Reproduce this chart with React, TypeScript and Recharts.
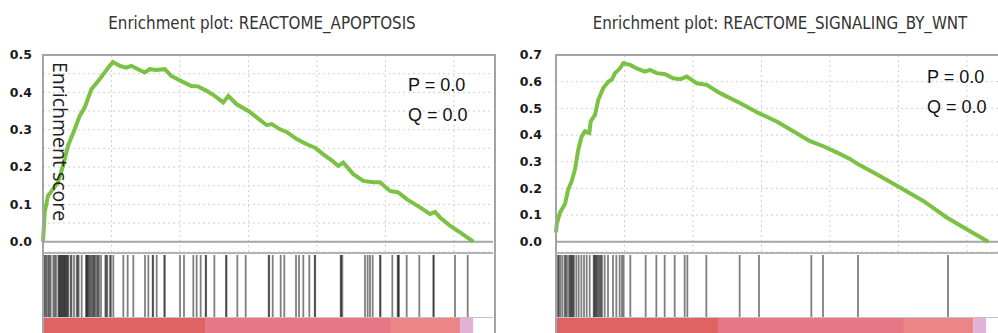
import React from 'react';
import { LineChart, Line, XAxis, YAxis, CartesianGrid, ReferenceLine, ReferenceArea, ComposedChart } from 'recharts';

// ranked gene list, x axis in rank units
const RANK_MAX = 32850;
const rankTicks = [5000, 10000, 15000, 20000, 25000, 30000];

const apoptosisRanks = [0, 124, 365, 730, 1095, 1460, 1825, 2314, 2679, 3044, 3529, 4015, 4504, 4869, 5110, 5599, 6081, 6446, 6935, 7424, 7789, 8271, 8884, 9366, 10096, 10826, 11315, 11950, 12556, 13162, 13527, 14138, 14989, 15600, 16330, 16695, 17301, 17790, 18520, 19250, 19856, 20462, 21075, 21556, 21921, 22652, 23382, 24112, 24601, 25331, 25937, 26549, 27521, 28251, 28616, 28981, 29711, 30441, 31412];
const apoptosisScores = [0, 0.079, 0.123, 0.141, 0.159, 0.203, 0.257, 0.301, 0.337, 0.359, 0.408, 0.43, 0.453, 0.471, 0.481, 0.471, 0.466, 0.471, 0.462, 0.453, 0.462, 0.46, 0.462, 0.444, 0.43, 0.417, 0.416, 0.404, 0.39, 0.373, 0.39, 0.368, 0.35, 0.333, 0.312, 0.315, 0.301, 0.294, 0.275, 0.261, 0.252, 0.234, 0.218, 0.203, 0.212, 0.181, 0.163, 0.159, 0.159, 0.136, 0.132, 0.114, 0.092, 0.074, 0.08, 0.065, 0.043, 0.025, 0];
const apoptosisHits = [97, 180, 268, 389, 470, 560, 754, 850, 949, 1119, 1180, 1241, 1300, 1363, 1420, 1484, 1540, 1606, 1660, 1728, 1790, 1849, 2020, 2080, 2263, 2458, 2530, 2604, 2823, 3139, 3190, 3236, 3300, 3382, 3460, 3553, 3640, 3723, 3800, 3918, 4000, 4088, 4234, 4550, 4620, 4696, 4891, 4960, 5134, 5864, 6180, 6594, 7446, 7690, 8005, 8040, 8298, 8857, 8890, 10001, 10293, 10974, 11217, 11509, 11874, 11910, 12509, 13359, 13395, 14187, 14796, 16476, 16510, 16768, 17352, 17615, 18469, 18688, 19002, 19440, 19834, 19870, 21731, 21770, 21853, 23506, 23700, 23871, 24066, 24601, 24640, 25500, 25893, 25930, 25988, 26549, 27470, 28492, 28530, 30076, 31003];

const wntRanks = [0, 51, 292, 657, 898, 1146, 1387, 1628, 1876, 2117, 2431, 2533, 2847, 3088, 3453, 3818, 4066, 4307, 4672, 4913, 5402, 5891, 6497, 6862, 7351, 7957, 8563, 9052, 9541, 10271, 11001, 11972, 13432, 14768, 16111, 17323, 18542, 19513, 20491, 21462, 22068, 23411, 25112, 26813, 28521, 29981, 31558];
const wntScores = [0.035, 0.066, 0.11, 0.141, 0.197, 0.227, 0.271, 0.346, 0.395, 0.414, 0.408, 0.451, 0.476, 0.532, 0.576, 0.6, 0.607, 0.632, 0.65, 0.669, 0.663, 0.65, 0.638, 0.644, 0.632, 0.628, 0.613, 0.609, 0.619, 0.594, 0.588, 0.557, 0.52, 0.483, 0.451, 0.414, 0.377, 0.358, 0.335, 0.31, 0.29, 0.253, 0.203, 0.153, 0.091, 0.047, 0];
const wntHits = [146, 200, 316, 462, 632, 700, 803, 949, 1030, 1100, 1168, 1240, 1314, 1484, 1655, 1850, 2044, 2239, 2458, 2750, 2800, 2872, 2940, 3018, 3100, 3188, 3270, 3358, 3553, 3796, 4161, 4404, 4647, 4818, 4939, 5426, 6545, 7325, 7933, 8663, 9393, 9588, 10975, 13408, 14819, 18639, 19491, 22046, 28616];

// ranked list metric bands
const metricBreaks = [0, 11826, 25400, 30450, 31400];
const metricColors = ['#e06363', '#e57884', '#ea8687', '#e2b2d8'];

const PLOT_W = 450;

interface PanelProps {
  left: number;
  axisW: number;
  title: string;
  titleCenter: number;
  ranks: number[];
  scores: number[];
  hits: number[];
  yMin: number;
  yMax: number;
  yTicks: number[];
  pq: { x: number; y: number };
  yLabel?: boolean;
}

const Panel: React.FC<PanelProps> = ({ left, axisW, title, titleCenter, ranks, scores, hits, yMin, yMax, yTicks, pq, yLabel }) => {
  const rows = ranks.map((r, i) => ({ rank: r, es: scores[i] }));
  const chartW = axisW + PLOT_W + 5;
  const plotLeft = left + axisW;
  const edge = [{ rank: 0, v: 0 }, { rank: RANK_MAX, v: 0 }];
  const textStyle: React.CSSProperties = { position: 'absolute', fontFamily: '"Liberation Sans", Arial, sans-serif', fontSize: 18, lineHeight: '18px', color: '#111', whiteSpace: 'nowrap' };
  return (
    <>
      <div style={{ position: 'absolute', left: titleCenter - 250, width: 500, top: 14, textAlign: 'center', fontFamily: '"Liberation Sans Narrow", "DejaVu Sans Condensed", sans-serif', fontSize: 16.8, lineHeight: '18px', color: '#333' }}>
        {title}
      </div>
      <div style={{ position: 'absolute', left, top: 0 }}>
        <LineChart width={chartW} height={253} data={rows} margin={{ top: 55, right: 5, bottom: 0, left: 0 }}>
          <CartesianGrid strokeDasharray="2 3" stroke="#d0d0d0" verticalValues={rankTicks} />
          <XAxis type="number" dataKey="rank" domain={[0, RANK_MAX]} ticks={rankTicks} interval={0} height={1} tickFormatter={() => ''} tickLine={false} axisLine={false} />
          <YAxis
            type="number"
            domain={[yMin, yMax]}
            ticks={yTicks}
            interval={0}
            allowDataOverflow
            width={axisW}
            axisLine={false}
            tickLine={false}
            tickSize={0}
            tickMargin={axisW === 43 ? 11 : 14}
            tickFormatter={(v: number) => (Math.round(v * 100) % 10 === 0 ? v.toFixed(1) : '')}
            tick={{ fontSize: 12.5, fontWeight: 'bold', fill: '#1a1a1a', fontFamily: '"DejaVu Sans", sans-serif' }}
          />
          <ReferenceLine y={0} stroke="#a6a6a6" strokeWidth={2} />
          <Line type="linear" dataKey="es" stroke="#7bc143" strokeWidth={4} dot={false} isAnimationActive={false} />
        </LineChart>
      </div>
      <div style={{ position: 'absolute', left, top: 254 }}>
        <ComposedChart width={chartW} height={63} data={edge} margin={{ top: 1, right: 5, bottom: 0, left: axisW }}>
          <XAxis type="number" dataKey="rank" domain={[0, RANK_MAX]} hide />
          <YAxis type="number" domain={[0, 1]} hide />
          {hits.map((h, i) => (
            <ReferenceLine key={i} x={h} stroke="#000" strokeOpacity={0.5} strokeWidth={1.8} />
          ))}
          <Line dataKey="v" stroke="none" dot={false} isAnimationActive={false} />
        </ComposedChart>
      </div>
      <div style={{ position: 'absolute', left, top: 317 }}>
        <ComposedChart width={chartW} height={20} data={edge} margin={{ top: 0, right: 5, bottom: 0, left: axisW }}>
          <XAxis type="number" dataKey="rank" domain={[0, RANK_MAX]} hide />
          <YAxis type="number" domain={[0, 1]} hide />
          {metricColors.map((c, i) => (
            <ReferenceArea key={i} x1={metricBreaks[i]} x2={metricBreaks[i + 1]} y1={0} y2={1} fill={c} fillOpacity={1} stroke="none" />
          ))}
          <Line dataKey="v" stroke="none" dot={false} isAnimationActive={false} />
        </ComposedChart>
      </div>
      {/* frame */}
      <div style={{ position: 'absolute', left: plotLeft - 1, top: 54, width: PLOT_W, height: 300, border: '2px solid #a4a4a4' }} />
      <div style={{ position: 'absolute', left: plotLeft, top: 252, width: PLOT_W, height: 0, borderTop: '2px solid #b4b4b4' }} />
      <div style={{ position: 'absolute', left: plotLeft, top: 317, width: PLOT_W, height: 0, borderTop: '1px solid #c4c4c4' }} />
      {yLabel && (
        <div style={{ position: 'absolute', left: 50, top: 62, width: 20, writingMode: 'vertical-rl', fontFamily: '"Open Sans", sans-serif', fontSize: 19.5, lineHeight: '20px', color: '#222', whiteSpace: 'nowrap' }}>
          Enrichment score
        </div>
      )}
      <div style={{ ...textStyle, left: pq.x, top: pq.y }}>P = 0.0</div>
      <div style={{ ...textStyle, left: pq.x, top: pq.y + 30 }}>Q = 0.0</div>
    </>
  );
};

export default function App() {
  return (
    <div style={{ position: 'absolute', left: 0, top: 0, width: 998, height: 333, overflow: 'hidden', background: '#fff' }}>
      <Panel
        left={0}
        axisW={43}
        title="Enrichment plot: REACTOME_APOPTOSIS"
        titleCenter={262}
        ranks={apoptosisRanks}
        scores={apoptosisScores}
        hits={apoptosisHits}
        yMin={-0.0275}
        yMax={0.5}
        yTicks={[0, 0.05, 0.1, 0.15, 0.2, 0.25, 0.3, 0.35, 0.4, 0.45, 0.5]}
        pq={{ x: 408, y: 75.5 }}
        yLabel
      />
      <Panel
        left={510}
        axisW={46}
        title="Enrichment plot: REACTOME_SIGNALING_BY_WNT"
        titleCenter={780}
        ranks={wntRanks}
        scores={wntScores}
        hits={wntHits}
        yMin={-0.0385}
        yMax={0.7}
        yTicks={[0, 0.1, 0.2, 0.3, 0.4, 0.5, 0.6, 0.7]}
        pq={{ x: 927, y: 67.8 }}
      />
    </div>
  );
}
